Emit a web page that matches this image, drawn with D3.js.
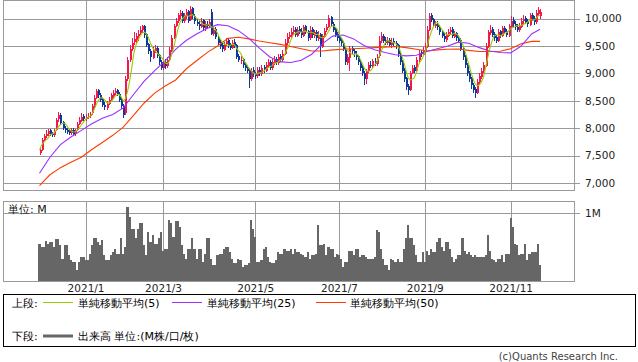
<!DOCTYPE html>
<html><head><meta charset="utf-8">
<script src="https://cdn.jsdelivr.net/npm/d3@7"></script>
<style>
html,body{margin:0;padding:0;background:#fff;}
svg{display:block;}
text{font-family:"DejaVu Sans",sans-serif;}
</style></head><body>
<svg id="c" width="638" height="362"></svg>
<script>
// ---- data ----
const startDate = "2020-12-01";
const holidays = ["2020-12-31","2021-01-01","2021-01-11","2021-02-11","2021-02-23","2021-04-29","2021-05-03","2021-05-04","2021-05-05","2021-07-22","2021-07-23","2021-08-09","2021-09-20","2021-09-23","2021-11-03","2021-11-23"];
const tickMonths = [1,3,5,7,9,11];

const openP = [
7540,7610,7770,7860,7890,7960,7890,7870,7960,8160,
8240,8110,8010,7970,7940,7910,7970,7890,7960,8070,
8140,8220,8160,8210,8220,8270,8390,8550,8690,8610,
8530,8430,8370,8440,8510,8590,8640,8690,8630,8530,
8410,8270,8890,9240,9440,9570,9610,9690,9730,9790,
9870,9710,9530,9410,9290,9410,9470,9330,9210,9090,
9210,9130,9250,9410,9640,9870,9950,10050,10110,9950,
10040,10130,9970,10190,10050,9940,9910,9850,9970,9810,
9910,9850,10120,9710,9810,9670,9570,9510,9430,9530,
9610,9510,9460,9570,9510,9310,9240,9260,9160,9110,
9060,8890,9060,8990,8950,9070,8990,9110,9050,9140,
9210,9090,9190,9270,9190,9310,9240,9350,9550,9670,
9690,9750,9810,9690,9810,9770,9690,9860,9770,9640,
9810,9690,9760,9630,9710,9490,9670,9790,9840,10030,
9910,9810,9710,9660,9610,9560,9460,9190,9290,9460,
9410,9360,9310,9210,9110,9010,8890,9040,9160,9140,
9230,9170,9310,9590,9690,9610,9550,9610,9510,9590,
9560,9510,9360,9210,9060,8910,8770,8690,9010,9110,
9040,9240,9390,9340,9410,9490,9790,10060,9990,9870,
9910,9850,9760,9690,9610,9690,9750,9810,9670,9730,
9650,9610,9460,9310,9160,9010,8910,8790,8710,8640,
8840,8940,9040,9140,9490,9740,9810,9710,9660,9590,
9770,9690,9830,9770,9690,9850,9970,9910,9850,9790,
9850,9950,10010,9950,9890,10070,10010,9930,10090,10040];

const highP = [
7640,7820,7900,7960,7990,7990,7930,7990,8190,8290,
8270,8140,8040,8010,7990,8010,8010,7990,8120,8200,
8280,8260,8260,8280,8300,8440,8600,8720,8720,8650,
8560,8470,8500,8570,8650,8700,8740,8720,8660,8550,
8440,8960,9300,9520,9650,9760,9740,9800,9860,9880,
9880,9740,9560,9440,9480,9520,9500,9350,9240,9260,
9260,9300,9480,9700,9900,10020,10110,10160,10130,10100,
10170,10150,10230,10210,10080,9990,9950,10010,10000,9950,
9960,9990,10180,9860,9840,9700,9610,9550,9580,9650,
9640,9560,9610,9620,9540,9360,9310,9290,9200,9160,
9090,9100,9110,9030,9110,9120,9150,9160,9200,9260,
9240,9260,9320,9300,9360,9360,9420,9620,9730,9760,
9820,9860,9840,9850,9860,9820,9880,9890,9800,9860,
9840,9800,9790,9770,9740,9720,9830,9900,10070,10050,
9940,9840,9750,9700,9650,9600,9490,9350,9500,9500,
9450,9400,9340,9250,9150,9040,9080,9200,9220,9270,
9280,9350,9680,9760,9720,9660,9660,9650,9640,9640,
9600,9540,9390,9240,9090,8940,8800,9050,9160,9150,
9300,9430,9430,9480,9560,9860,10110,10100,10020,9950,
9950,9880,9800,9730,9750,9810,9850,9840,9780,9760,
9690,9640,9490,9340,9190,9040,8940,8830,8760,8900,
9000,9100,9200,9560,9800,9880,9840,9750,9700,9810,
9800,9870,9870,9810,9910,10040,10030,9960,9900,9920,
10010,10060,10050,9990,10110,10100,10040,10160,10220,10180];

const lowP = [
7510,7590,7740,7820,7860,7860,7840,7840,7940,8120,
8060,7970,7920,7890,7880,7880,7870,7860,7940,8050,
8120,8130,8140,8170,8180,8250,8370,8530,8560,8480,
8380,8340,8340,8420,8490,8560,8610,8580,8480,8350,
8190,8250,8870,9200,9400,9520,9560,9600,9680,9740,
9650,9480,9360,9200,9260,9380,9280,9150,9060,9060,
9080,9100,9220,9390,9620,9840,9920,10000,9920,9920,
10000,9920,9950,10000,9900,9860,9800,9820,9780,9770,
9820,9820,9700,9680,9620,9520,9450,9390,9400,9500,
9460,9420,9440,9460,9260,9200,9180,9100,9050,9000,
8740,8860,8940,8900,8920,8960,8960,9010,9020,9100,
9060,9060,9160,9150,9160,9200,9210,9330,9520,9620,
9650,9720,9660,9660,9720,9650,9660,9720,9600,9610,
9650,9650,9600,9590,9300,9470,9640,9750,9820,9860,
9760,9660,9600,9560,9500,9400,9150,9150,9040,9350,
9300,9250,9150,9050,8950,8780,8800,9000,9100,9100,
9130,9140,9290,9560,9560,9510,9520,9480,9470,9500,
9450,9300,9150,9000,8850,8700,8610,8680,8980,9000,
9020,9210,9300,9310,9380,9470,9770,9930,9840,9820,
9800,9700,9640,9580,9580,9660,9720,9640,9640,9600,
9560,9400,9250,9100,8950,8840,8720,8640,8560,8620,
8810,8900,9000,9120,9470,9700,9660,9600,9550,9570,
9650,9660,9720,9660,9670,9820,9850,9790,9760,9750,
9820,9910,9900,9850,9870,9950,9880,9900,10050,10000];

const closeP = [
7600,7780,7850,7900,7950,7900,7880,7950,8150,8250,
8100,8000,7960,7930,7920,7960,7900,7950,8080,8150,
8210,8170,8200,8230,8260,8400,8560,8680,8600,8520,
8420,8380,8450,8520,8600,8650,8680,8620,8520,8400,
8250,8900,9250,9450,9560,9620,9680,9720,9800,9860,
9700,9520,9400,9300,9420,9460,9320,9200,9100,9200,
9140,9240,9420,9650,9860,9960,10060,10100,9960,10060,
10120,9960,10180,10040,9950,9900,9860,9960,9820,9900,
9860,9940,9720,9800,9660,9560,9500,9440,9540,9600,
9500,9470,9560,9500,9300,9250,9250,9150,9100,9050,
8900,9050,8980,8960,9060,9000,9100,9060,9150,9200,
9100,9200,9260,9200,9300,9250,9360,9560,9660,9700,
9760,9800,9700,9800,9760,9700,9850,9760,9650,9800,
9700,9750,9640,9700,9500,9680,9780,9850,10020,9900,
9800,9700,9650,9600,9550,9450,9200,9300,9450,9400,
9350,9300,9200,9100,9000,8900,9050,9150,9150,9220,
9180,9300,9600,9680,9600,9560,9600,9520,9580,9550,
9500,9350,9200,9050,8900,8760,8700,9000,9100,9050,
9250,9380,9350,9420,9500,9800,10050,9980,9880,9900,
9840,9750,9680,9620,9700,9760,9800,9680,9720,9640,
9600,9450,9300,9150,9000,8900,8780,8700,8650,8850,
8950,9050,9150,9500,9750,9800,9700,9650,9600,9760,
9700,9820,9760,9700,9860,9960,9900,9840,9800,9860,
9960,10000,9940,9900,10060,10000,9940,10100,10150,10120];

// volume in millions of shares
const volumeM = [
0.54,0.50,0.50,0.59,0.55,0.58,0.58,0.50,0.62,0.62,
0.53,0.33,0.53,0.53,0.38,0.31,0.28,0.28,0.16,0.28,
0.36,0.36,0.31,0.31,0.40,0.53,0.63,0.63,0.58,0.53,
0.61,0.38,0.31,0.31,0.38,0.43,0.48,0.40,0.40,0.63,
0.40,0.50,1.09,0.94,0.77,0.77,0.63,0.77,0.85,0.85,
0.53,0.38,0.72,0.58,0.68,0.55,0.55,0.63,0.72,0.45,
0.48,0.48,0.90,0.85,0.65,0.89,0.89,0.80,0.53,0.40,
0.33,0.48,0.48,0.63,0.48,0.33,0.48,0.48,0.28,0.40,
0.63,0.63,0.33,0.24,0.24,0.38,0.40,0.40,0.48,0.50,
0.50,0.43,0.33,0.26,0.26,0.33,0.31,0.21,0.24,0.24,
0.26,0.90,0.77,0.65,0.28,0.28,0.31,0.48,0.50,0.36,
0.28,0.26,0.26,0.31,0.43,0.40,0.40,0.48,0.45,0.45,
0.48,0.40,0.48,0.43,0.43,0.40,0.38,0.36,0.43,0.33,
0.38,0.38,0.40,0.82,0.53,0.53,0.55,0.38,0.50,0.48,
0.48,0.36,0.40,0.38,0.33,0.21,0.28,0.28,0.45,0.45,
0.38,0.48,0.48,0.36,0.38,0.38,0.36,0.33,0.33,0.33,
0.36,0.76,0.72,0.48,0.33,0.24,0.24,0.16,0.33,0.31,
0.28,0.33,0.28,0.28,0.48,0.63,0.82,0.63,0.63,0.53,
0.38,0.28,0.28,0.43,0.28,0.45,0.38,0.48,0.43,0.43,
0.58,0.63,0.50,0.45,0.58,0.58,0.48,0.36,0.28,0.33,
0.38,0.38,0.63,0.45,0.40,0.43,0.38,0.36,0.38,0.36,
0.36,0.36,0.36,0.38,0.68,0.45,0.33,0.31,0.28,0.33,
0.33,0.38,0.28,0.40,0.40,0.93,0.80,0.55,0.53,0.38,
0.40,0.40,0.55,0.31,0.40,0.43,0.43,0.43,0.55,0.24];

// moving averages read every 5th session (last value = last session)
const maStep = 5;
const ma25 = [7178,7470,7700,7840,7960,8080,8180,8250,8370,8620,8860,9050,9230,9440,9600,9720,9820,9890,9870,9780,9640,9460,9300,9210,9200,9240,9350,9540,9680,9700,9630,9510,9430,9380,9340,9320,9330,9400,9450,9500,9570,9550,9470,9410,9380,9375,9500,9720,9805];
const ma50 = [6950,7150,7280,7380,7470,7610,7740,7870,8020,8240,8460,8640,8770,8880,9080,9230,9380,9500,9640,9660,9630,9590,9560,9530,9490,9450,9410,9410,9430,9440,9450,9460,9470,9480,9490,9470,9440,9410,9430,9440,9445,9420,9400,9400,9405,9450,9540,9585,9585];

const priceTicks = [7000,7500,8000,8500,9000,9500,10000];
const volumeTicks = [1];

const legendTop = [
  {label:"単純移動平均(5)", color:"#99cc00"},
  {label:"単純移動平均(25)", color:"#9b30ff"},
  {label:"単純移動平均(50)", color:"#ff3c00"}
];

// ---- drawing ----
const W=638, H=362;
const COL = {up:"#f5164b", down:"#0b3a9c", grid:"#9a9a9a", vol:"#666666"};
const svg = d3.select("#c");
svg.append("rect").attr("width",W).attr("height",H).attr("fill","#fff");

const n = closeP.length;
// trading calendar
function tradingDays(count){
  const hol = new Set(holidays);
  const out=[]; const d=new Date(startDate+"T00:00:00Z");
  while(out.length<count){
    const wd=d.getUTCDay(); const s=d.toISOString().slice(0,10);
    if(wd!==0 && wd!==6 && !hol.has(s)) out.push(new Date(d));
    d.setUTCDate(d.getUTCDate()+1);
  }
  return out;
}
const dates = tradingDays(n);
const tickIdx = [];
for(let i=1;i<n;i++){
  const m = dates[i].getUTCMonth()+1;
  if(m !== dates[i-1].getUTCMonth()+1 && tickMonths.includes(m)) tickIdx.push(i);
}

const P = {l:3, r:574, t:0, b:190};
const V = {t:201, b:281};
const x = d3.scaleLinear().domain([0,n-1]).range([39.5,540]);
const y = d3.scaleLinear().domain([7000,10000]).range([183,18.6]);
const yv = d3.scaleLinear().domain([0,1]).range([V.b,213.3]);
const px = v => Math.round(v)+0.5;

// gridlines main
const g = svg.append("g").attr("shape-rendering","crispEdges");
g.selectAll(".hg").data(priceTicks).join("line")
  .attr("x1",P.l).attr("x2",580).attr("y1",d=>px(y(d))).attr("y2",d=>px(y(d)))
  .attr("stroke",COL.grid);
g.selectAll(".vg").data(tickIdx).join("line")
  .attr("x1",d=>px(x(d))).attr("x2",d=>px(x(d))).attr("y1",P.t).attr("y2",P.b)
  .attr("stroke",COL.grid);
// volume grid
g.selectAll(".hv").data(volumeTicks).join("line")
  .attr("x1",P.l).attr("x2",580).attr("y1",d=>px(yv(d))).attr("y2",d=>px(yv(d)))
  .attr("stroke",COL.grid);
g.selectAll(".vv").data(tickIdx).join("line")
  .attr("x1",d=>px(x(d))).attr("x2",d=>px(x(d))).attr("y1",V.t).attr("y2",V.b)
  .attr("stroke",COL.grid);

// candles
const idx = d3.range(n);
const cg = svg.append("g").attr("shape-rendering","crispEdges");
cg.selectAll(".wick").data(idx).join("line")
  .attr("x1",i=>Math.round(x(i))+0.5).attr("x2",i=>Math.round(x(i))+0.5)
  .attr("y1",i=>y(highP[i])).attr("y2",i=>y(lowP[i]))
  .attr("stroke",i=>closeP[i]>=openP[i]?COL.up:COL.down).attr("stroke-width",1);
cg.selectAll(".body").data(idx).join("rect")
  .attr("x",i=>Math.round(x(i))-0.5).attr("width",2)
  .attr("y",i=>y(Math.max(openP[i],closeP[i])))
  .attr("height",i=>Math.max(1,Math.abs(y(openP[i])-y(closeP[i]))))
  .attr("fill",i=>closeP[i]>=openP[i]?COL.up:COL.down);

// moving averages
const ma5 = closeP.map((c,i)=>d3.mean(closeP.slice(Math.max(0,i-4),i+1)));
const line = d3.line().x(d=>x(d[0])).y(d=>y(d[1]));
const sampled = arr => arr.map((v,k)=>[Math.min(k*maStep,n-1),v]);
svg.append("path").datum(sampled(ma50)).attr("d",line).attr("fill","none").attr("stroke",legendTop[2].color).attr("stroke-width",1.1);
svg.append("path").datum(sampled(ma25)).attr("d",line).attr("fill","none").attr("stroke",legendTop[1].color).attr("stroke-width",1.1);
svg.append("path").datum(ma5.map((v,i)=>[i,v])).attr("d",line).attr("fill","none").attr("stroke",legendTop[0].color).attr("stroke-width",1.1);

// volume bars
svg.append("g").attr("shape-rendering","crispEdges").selectAll("rect").data(idx).join("rect")
  .attr("x",i=>x(i)-1.05).attr("width",2.1)
  .attr("y",i=>yv(volumeM[i])).attr("height",i=>V.b-yv(volumeM[i]))
  .attr("fill",COL.vol);

// frames
const fr = svg.append("g").attr("shape-rendering","crispEdges").attr("fill","none").attr("stroke",COL.grid);
fr.append("rect").attr("x",P.l+0.5).attr("y",P.t+0.5).attr("width",P.r-P.l).attr("height",P.b-P.t);
fr.append("rect").attr("x",P.l+0.5).attr("y",V.t+0.5).attr("width",P.r-P.l).attr("height",V.b-V.t);

// axes
const yAxis = d3.axisRight(y).tickValues(priceTicks).tickSize(0).tickPadding(11).tickFormat(d3.format(","));
const ya = svg.append("g").attr("transform",`translate(${P.r},0)`).call(yAxis);
ya.select(".domain").remove();
ya.selectAll("text").attr("font-family","DejaVu Sans").attr("font-size",10.5).attr("fill","#222");

const vAxis = d3.axisRight(yv).tickValues(volumeTicks).tickSize(0).tickPadding(11).tickFormat(d=>d+"M");
const va = svg.append("g").attr("transform",`translate(${P.r},0)`).call(vAxis);
va.select(".domain").remove();
va.selectAll("text").attr("font-family","DejaVu Sans").attr("font-size",10.5).attr("fill","#222");

const xAxis = d3.axisBottom(x).tickValues(tickIdx).tickSize(0).tickPadding(3.5)
  .tickFormat(i=>dates[i].getUTCFullYear()+"/"+(dates[i].getUTCMonth()+1));
const xa = svg.append("g").attr("transform",`translate(0,${V.b})`).call(xAxis);
xa.select(".domain").remove();
xa.selectAll("text").attr("font-family","DejaVu Sans").attr("font-size",10.5).attr("fill","#222");

// unit label
svg.append("text").attr("x",8).attr("y",213).attr("font-family","Noto Sans CJK JP").attr("font-size",11).attr("fill","#111").text("単位: M");

// legend
const lg = svg.append("g");
lg.append("rect").attr("x",3.5).attr("y",294.5).attr("width",631.5).attr("height",51.5).attr("fill","none").attr("stroke","#000").attr("shape-rendering","crispEdges");
const jp = "Noto Sans CJK JP";
lg.append("text").attr("x",12).attr("y",307).attr("font-family",jp).attr("font-size",11).text("上段:");
const legX = [[43,78],[172,207],[316,350]];
legendTop.forEach((d,k)=>{
  lg.append("line").attr("x1",legX[k][0]).attr("x2",legX[k][0]+30).attr("y1",302.5).attr("y2",302.5).attr("stroke",d.color).attr("stroke-width",1).attr("shape-rendering","crispEdges");
  lg.append("text").attr("x",legX[k][1]).attr("y",307).attr("font-family",jp).attr("font-size",11).text(d.label);
});
lg.append("text").attr("x",12).attr("y",340).attr("font-family",jp).attr("font-size",11).text("下段:");
lg.append("line").attr("x1",43).attr("x2",73).attr("y1",336).attr("y2",336).attr("stroke",COL.vol).attr("stroke-width",3);
lg.append("text").attr("x",78).attr("y",340).attr("font-family",jp).attr("font-size",11).text("出来高 単位:(M株/口/枚)");

svg.append("text").attr("x",618).attr("y",360).attr("text-anchor","end").attr("font-family","DejaVu Sans").attr("font-size",10).attr("fill","#444").text("(c)Quants Research Inc.");
</script>
</body></html>
